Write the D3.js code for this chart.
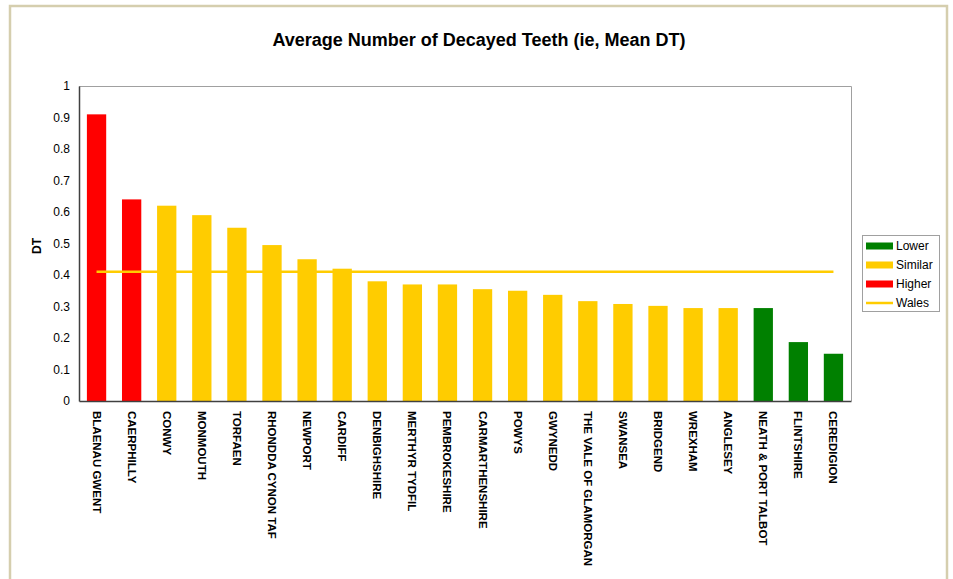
<!DOCTYPE html>
<html>
<head>
<meta charset="utf-8">
<script src="https://cdn.jsdelivr.net/npm/d3@7/dist/d3.min.js"></script>
<style>
  html, body { margin: 0; padding: 0; background: #fff; }
  svg { display: block; font-family: "Liberation Sans", Arial, sans-serif; }
</style>
</head>
<body>
<svg id="chart" width="953" height="579"></svg>
<script>
// Unitary authorities, ordered by mean DT
const areas = [
  "BLAENAU GWENT", "CAERPHILLY", "CONWY", "MONMOUTH", "TORFAEN",
  "RHONDDA CYNON TAF", "NEWPORT", "CARDIFF", "DENBIGHSHIRE", "MERTHYR TYDFIL",
  "PEMBROKESHIRE", "CARMARTHENSHIRE", "POWYS", "GWYNEDD", "THE VALE OF GLAMORGAN",
  "SWANSEA", "BRIDGEND", "WREXHAM", "ANGLESEY", "NEATH & PORT TALBOT",
  "FLINTSHIRE", "CEREDIGION"
];
const meanDT = [
  0.91, 0.64, 0.62, 0.59, 0.55,
  0.495, 0.45, 0.42, 0.38, 0.37,
  0.37, 0.355, 0.35, 0.337, 0.317,
  0.308, 0.302, 0.295, 0.295, 0.295,
  0.187, 0.15
];
// Comparison with the all-Wales figure
const status = [
  "Higher", "Higher", "Similar", "Similar", "Similar",
  "Similar", "Similar", "Similar", "Similar", "Similar",
  "Similar", "Similar", "Similar", "Similar", "Similar",
  "Similar", "Similar", "Similar", "Similar", "Lower",
  "Lower", "Lower"
];
const walesMean = 0.41;
const yTicks = [0, 0.1, 0.2, 0.3, 0.4, 0.5, 0.6, 0.7, 0.8, 0.9, 1];
const legendItems = ["Lower", "Similar", "Higher", "Wales"];

const colour = { Lower: "#008000", Similar: "#ffcc00", Higher: "#ff0000", Wales: "#ffcc00" };

const svg = d3.select("#chart");

// Outer frame
svg.append("path")
  .attr("d", "M10,579 V6 H947 V579")
  .attr("fill", "none")
  .attr("stroke", "#d5ceae")
  .attr("stroke-width", 2.5);

const plot = { left: 79, top: 86, right: 851, bottom: 401 };

const x = d3.scaleBand()
  .domain(areas)
  .range([plot.left, plot.right])
  .paddingInner(0.45)
  .paddingOuter(0.225);

const y = d3.scaleLinear()
  .domain([0, 1])
  .range([plot.bottom, plot.top]);

// Title
svg.append("text")
  .attr("x", 479)
  .attr("y", 46)
  .attr("text-anchor", "middle")
  .attr("font-size", 18)
  .attr("font-weight", "bold")
  .attr("fill", "#000")
  .text("Average Number of Decayed Teeth (ie, Mean DT)");

// Plot area frame (top and right edges)
svg.append("path")
  .attr("d", `M${plot.left},${plot.top + 0.5} H${plot.right + 0.5} V${plot.bottom}`)
  .attr("fill", "none")
  .attr("stroke", "#a0a0a0")
  .attr("stroke-width", 1);

// Bars
svg.append("g")
  .selectAll("rect")
  .data(areas)
  .join("rect")
  .attr("x", d => x(d))
  .attr("width", x.bandwidth())
  .attr("y", (d, i) => y(meanDT[i]))
  .attr("height", (d, i) => y(0) - y(meanDT[i]))
  .attr("fill", (d, i) => colour[status[i]]);

// Wales average line
const lineData = [areas[0], areas[areas.length - 1]];
svg.append("path")
  .datum(lineData)
  .attr("d", d3.line()
    .x(d => x(d) + x.bandwidth() / 2)
    .y(() => y(walesMean)))
  .attr("fill", "none")
  .attr("stroke", colour.Wales)
  .attr("stroke-width", 2.5);

// Y axis
const yAxis = svg.append("g")
  .attr("transform", `translate(${plot.left},0)`)
  .call(d3.axisLeft(y).tickValues(yTicks).tickSize(0).tickPadding(9).tickFormat(d3.format("")));
yAxis.select(".domain").attr("stroke", "#404040").attr("stroke-width", 1.5);
yAxis.selectAll("text")
  .attr("font-size", 12)
  .attr("font-family", "Liberation Sans, Arial, sans-serif")
  .attr("fill", "#000");

// X axis
const xAxis = svg.append("g")
  .attr("transform", `translate(0,${plot.bottom})`)
  .call(d3.axisBottom(x).tickSize(0).tickPadding(0));
xAxis.select(".domain").attr("stroke", "#404040").attr("stroke-width", 1.5);
xAxis.selectAll("text")
  .attr("font-size", 11.5)
  .attr("font-weight", "bold")
  .attr("font-family", "Liberation Sans, Arial, sans-serif")
  .attr("fill", "#000")
  .attr("text-anchor", "start")
  .attr("dy", "0.35em")
  .attr("transform", "translate(0,10) rotate(90)")
  .attr("y", 0)
  .attr("x", 0);

// Y axis title
svg.append("text")
  .attr("transform", "translate(41,246) rotate(-90)")
  .attr("text-anchor", "middle")
  .attr("font-size", 12)
  .attr("font-weight", "bold")
  .attr("fill", "#000")
  .text("DT");

// Legend
const legend = svg.append("g").attr("transform", "translate(862,235)");
legend.append("rect")
  .attr("x", 0.5).attr("y", 0.5)
  .attr("width", 77).attr("height", 76)
  .attr("fill", "#fff")
  .attr("stroke", "#a0a0a0");
const rows = legend.selectAll("g.item")
  .data(legendItems)
  .join("g")
  .attr("class", "item")
  .attr("transform", (d, i) => `translate(4,${11 + i * 19})`);
rows.each(function (d) {
  const g = d3.select(this);
  if (d === "Wales") {
    g.append("line")
      .attr("x1", 0).attr("x2", 27)
      .attr("y1", 0).attr("y2", 0)
      .attr("stroke", colour[d])
      .attr("stroke-width", 2.5);
  } else {
    g.append("rect")
      .attr("x", 0).attr("y", -3.5)
      .attr("width", 27).attr("height", 7)
      .attr("fill", colour[d]);
  }
  g.append("text")
    .attr("x", 30)
    .attr("y", 0)
    .attr("dy", "0.35em")
    .attr("font-size", 12)
    .attr("fill", "#000")
    .text(d);
});
</script>
</body>
</html>
